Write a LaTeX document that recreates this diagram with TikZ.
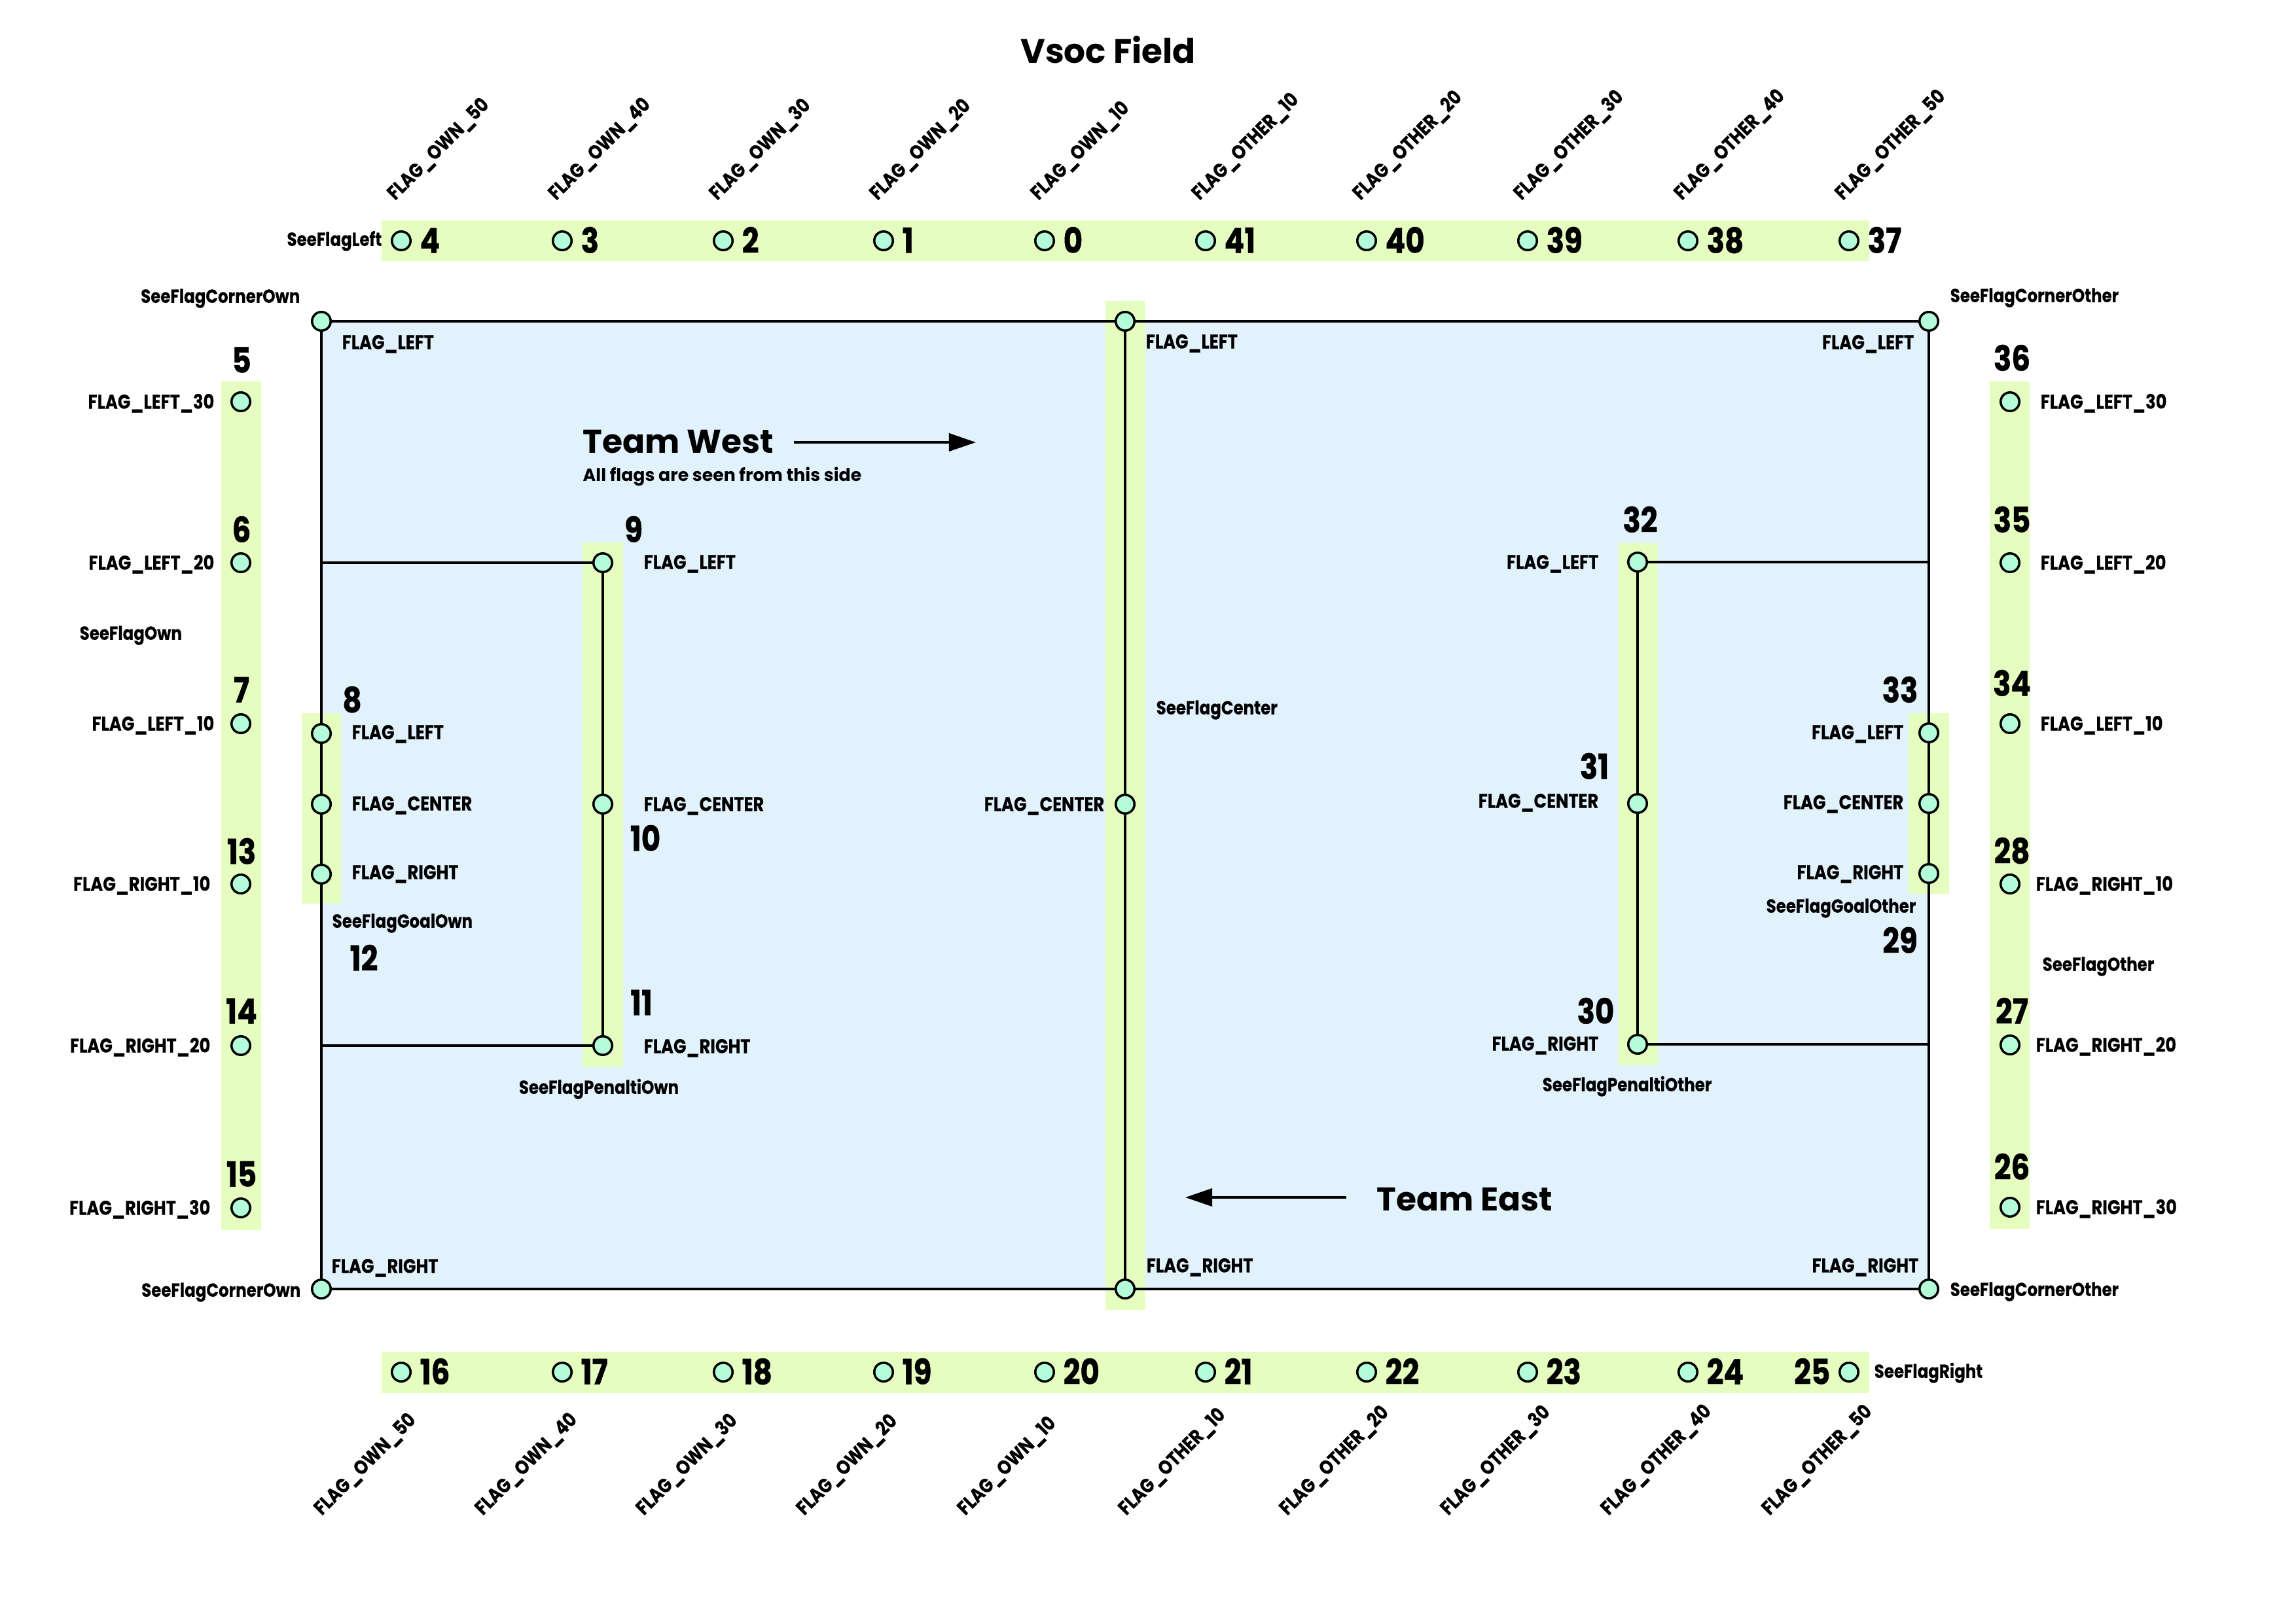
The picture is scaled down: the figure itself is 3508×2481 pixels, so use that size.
\documentclass[tikz,border=0pt]{standalone}
\usepackage{fontspec}
\newfontfamily\labfont{Poppins}[FakeStretch=0.85, FakeBold=0.3]
\newfontfamily\numfont{Poppins}[FakeStretch=0.85, FakeBold=0.8]
\newfontfamily\ttlfont{Poppins}
\usetikzlibrary{arrows.meta}
\definecolor{fieldc}{HTML}{E1F2FD}
\definecolor{bandc}{HTML}{E6FDC0}
\definecolor{flagc}{HTML}{B4FDD9}
\tikzset{
 flag/.style={circle, draw=black, fill=flagc, line width=1pt, minimum size=0.285cm, inner sep=0pt},
 lbl/.style={font=\labfont\bfseries\fontsize{8.6}{10}\selectfont, inner sep=0pt, text height=0.21cm, text depth=0pt},
 num/.style={font=\numfont\bfseries\fontsize{15.1}{18}\selectfont, inner sep=0pt, text height=0.37cm, text depth=0pt},
 see/.style={font=\labfont\bfseries\fontsize{8.2}{10}\selectfont, inner sep=0pt, text height=0.195cm, text depth=0pt},
 rot/.style={lbl, rotate=45, anchor=west},
 band/.style={fill=bandc, draw=none},
 fline/.style={line width=1pt},
 team/.style={font=\ttlfont\bfseries\fontsize{14.3}{17}\selectfont, inner sep=0pt, anchor=base west},
 note/.style={font=\ttlfont\bfseries\fontsize{7.6}{9}\selectfont, inner sep=0pt, anchor=base west},
 arr/.style={line width=1.1pt, -{Triangle[length=0.41cm,width=0.27cm]}},
}
\begin{document}
\begin{tikzpicture}[x=0.01cm, y=-0.01cm]
\useasboundingbox (0,0) rectangle (3508,2481);
\fill[white] (0,0) rectangle (3508,2481);
% field
\fill[fieldc] (491,491) rectangle (2947,1970);
% bands
\fill[band] (583,337) rectangle (2856,399);
\fill[band] (583,2066) rectangle (2856,2129);
\fill[band] (338,583) rectangle (399,1880);
\fill[band] (3040,583) rectangle (3101,1878);
\fill[band] (1689,460) rectangle (1750,2002);
\fill[band] (461,1090) rectangle (521,1381);
\fill[band] (890,829) rectangle (952,1631);
\fill[band] (2473,830) rectangle (2533,1628);
\fill[band] (2916,1090) rectangle (2978,1366);
% coordinates
\coordinate (cTL) at (491,491);
\coordinate (cTR) at (2947,491);
\coordinate (cBL) at (491,1970);
\coordinate (cBR) at (2947,1970);
\coordinate (cT) at (1719,491);
\coordinate (cC) at (1719,1229);
\coordinate (cB) at (1719,1970);
\coordinate (g8) at (491,1121);
\coordinate (g12c) at (491,1229);
\coordinate (g12) at (491,1336);
\coordinate (p9) at (921,860);
\coordinate (p10) at (921,1229);
\coordinate (p11) at (921,1598);
\coordinate (e9) at (491,860);
\coordinate (e11) at (491,1598);
\coordinate (p32) at (2502,859);
\coordinate (p31) at (2502,1228);
\coordinate (p30) at (2502,1596);
\coordinate (e32) at (2947,859);
\coordinate (e30) at (2947,1596);
\coordinate (g33) at (2947,1120);
\coordinate (g29c) at (2947,1228);
\coordinate (g29) at (2947,1335);
% lines
\draw[fline] (cTL) -- (cTR) -- (cBR) -- (cBL) -- cycle;
\draw[fline] (cT) -- (cB);
\draw[fline] (e9) -- (p9) -- (p11) -- (e11);
\draw[fline] (e32) -- (p32) -- (p30) -- (e30);
% field flags
\foreach \c in {cTL,cTR,cBL,cBR,cT,cC,cB,g8,g12c,g12,p9,p10,p11,p32,p31,p30,g33,g29c,g29}
  \node[flag] (n\c) at (\c) {};
% title
\node[font=\ttlfont\bfseries\fontsize{14.7}{17}\selectfont, inner sep=0pt, anchor=base] (title) at (1693,96) {Vsoc Field};
% top row
\foreach \x/\n/\l in {613/4/OWN\_50, 859/3/OWN\_40, 1105/2/OWN\_30, 1350/1/OWN\_20, 1596/0/OWN\_10, 1842/41/OTHER\_10, 2088/40/OTHER\_20, 2334/39/OTHER\_30, 2579/38/OTHER\_40, 2825/37/OTHER\_50}{
  \node[flag] (f\n) at (\x,368) {};
  \node[num, anchor=west] (fn\n) at (\x+28,368) {\n};
  \node[rot] (fl\n) at (\x-17,300) {FLAG\_\l};
}
\node[see, anchor=east] (sfl) at (584,366) {SeeFlagLeft};
% bottom row
\foreach \x/\n/\l in {613/16/OWN\_50, 859/17/OWN\_40, 1105/18/OWN\_30, 1350/19/OWN\_20, 1596/20/OWN\_10, 1842/21/OTHER\_10, 2088/22/OTHER\_20, 2334/23/OTHER\_30, 2579/24/OTHER\_40}{
  \node[flag] (f\n) at (\x,2097) {};
  \node[num, anchor=west] (fn\n) at (\x+28,2097) {\n};
  \node[rot] (fl\n) at (\x-129,2310) {FLAG\_\l};
}
\node[flag] (f25) at (2825,2097) {};
\node[num, anchor=east] (fn25) at (2825-28,2097) {25};
\node[rot] (fl25) at (2825-129,2310) {FLAG\_OTHER\_50};
\node[see, anchor=west] (sfr) at (2863,2096) {SeeFlagRight};
% left column
\foreach \y/\n/\ny/\l/\lx in {614/5/551/LEFT\_30/328, 860/6/810/LEFT\_20/328, 1106/7/1055/LEFT\_10/328, 1351/13/1302/RIGHT\_10/322, 1598/14/1546/RIGHT\_20/322, 1846/15/1795/RIGHT\_30/322}{
  \node[flag] (f\n) at (368,\y) {};
  \node[num] (fn\n) at (369,\ny) {\n};
  \node[lbl, anchor=east] (fl\n) at (\lx,\y) {FLAG\_\l};
}
\node[see, anchor=west] (sfo) at (121,968) {SeeFlagOwn};
% right column
\foreach \y/\n/\ny/\l/\lx in {614/36/548/LEFT\_30/3117, 860/35/795/LEFT\_20/3117, 1106/34/1045/LEFT\_10/3117, 1351/28/1301/RIGHT\_10/3110, 1597/27/1546/RIGHT\_20/3110, 1845/26/1784/RIGHT\_30/3110}{
  \node[flag] (f\n) at (3071,\y) {};
  \node[num] (fn\n) at (3074,\ny) {\n};
  \node[lbl, anchor=west] (fl\n) at (\lx,\y) {FLAG\_\l};
}
\node[see, anchor=west] (sfoth) at (3120,1474) {SeeFlagOther};
% corner labels
\node[see, anchor=east] (scoTL) at (459,453) {SeeFlagCornerOwn};
\node[see, anchor=east] (scoBL) at (460,1972) {SeeFlagCornerOwn};
\node[see, anchor=west] (scoTR) at (2979,452) {SeeFlagCornerOther};
\node[see, anchor=west] (scoBR) at (2979,1971) {SeeFlagCornerOther};
\node[lbl, anchor=west] (lTL) at (522,523) {FLAG\_LEFT};
\node[lbl, anchor=west] (lT) at (1750,522) {FLAG\_LEFT};
\node[lbl, anchor=east] (lTR) at (2925,523) {FLAG\_LEFT};
\node[lbl, anchor=west] (lBL) at (506,1935) {FLAG\_RIGHT};
\node[lbl, anchor=west] (lB) at (1751,1934) {FLAG\_RIGHT};
\node[lbl, anchor=east] (lBR) at (2932,1934) {FLAG\_RIGHT};
% center
\node[lbl, anchor=east] (lC) at (1688,1229) {FLAG\_CENTER};
\node[see, anchor=west] (sfc) at (1766,1082) {SeeFlagCenter};
% own goal
\node[num] (fn8) at (538,1070) {8};
\node[lbl, anchor=west] (lg8) at (537,1119) {FLAG\_LEFT};
\node[lbl, anchor=west] (lg12c) at (537,1228) {FLAG\_CENTER};
\node[lbl, anchor=west] (lg12) at (537,1333) {FLAG\_RIGHT};
\node[see, anchor=west] (sgo) at (507,1408) {SeeFlagGoalOwn};
\node[num] (fn12) at (556,1465) {12};
% own penalty
\node[num] (fn9) at (968,810) {9};
\node[num] (fn10) at (986,1282) {10};
\node[num] (fn11) at (980,1533) {11};
\node[lbl, anchor=west] (lp9) at (983,859) {FLAG\_LEFT};
\node[lbl, anchor=west] (lp10) at (983,1229) {FLAG\_CENTER};
\node[lbl, anchor=west] (lp11) at (983,1599) {FLAG\_RIGHT};
\node[see] (spo) at (915,1662) {SeeFlagPenaltiOwn};
% other penalty
\node[num] (fn32) at (2506,795) {32};
\node[num] (fn31) at (2436,1172) {31};
\node[num] (fn30) at (2438,1546) {30};
\node[lbl, anchor=east] (lp32) at (2443,859) {FLAG\_LEFT};
\node[lbl, anchor=east] (lp31) at (2443,1224) {FLAG\_CENTER};
\node[lbl, anchor=east] (lp30) at (2443,1595) {FLAG\_RIGHT};
\node[see] (spoth) at (2486,1658) {SeeFlagPenaltiOther};
% other goal
\node[num] (fn33) at (2903,1055) {33};
\node[num] (fn29) at (2903,1438) {29};
\node[lbl, anchor=east] (lg33) at (2909,1119) {FLAG\_LEFT};
\node[lbl, anchor=east] (lg29c) at (2909,1226) {FLAG\_CENTER};
\node[lbl, anchor=east] (lg29) at (2909,1333) {FLAG\_RIGHT};
\node[see] (sgoth) at (2813,1385) {SeeFlagGoalOther};
% teams
\node[team] (tw) at (890,692) {Team West};
\node[note] (twn) at (890,735) {All flags are seen from this side};
\coordinate (wa1) at (1213,676);
\coordinate (wa2) at (1491,676);
\draw[arr] (wa1) -- (wa2);
\node[team] (te) at (2103,1850) {Team East};
\coordinate (ea1) at (2057,1830);
\coordinate (ea2) at (1811,1830);
\draw[arr] (ea1) -- (ea2);
\end{tikzpicture}
\end{document}
